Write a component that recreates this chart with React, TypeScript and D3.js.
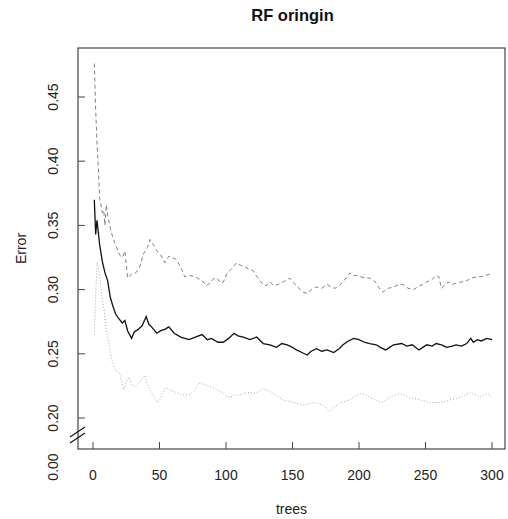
import React from "react"
import * as d3 from "d3"

// OOB error (solid black)
const oobTrees = [1, 2, 3, 5, 7, 9, 11, 13, 15, 17, 19, 22, 24, 26, 29, 31, 34, 37, 40, 42, 44, 48, 51, 54, 57, 61, 66, 72, 77, 82, 86, 89, 94, 98, 102, 106, 109, 113, 118, 123, 128, 133, 138, 142, 146, 150, 153, 157, 161, 164, 168, 172, 176, 181, 185, 188, 192, 196, 200, 204, 208, 213, 216, 220, 223, 226, 232, 236, 240, 245, 248, 251, 255, 258, 262, 266, 270, 273, 277, 281, 284, 286, 289, 292, 296, 300]
const oobErr = [0.370, 0.343, 0.354, 0.335, 0.322, 0.313, 0.307, 0.294, 0.287, 0.281, 0.278, 0.274, 0.276, 0.268, 0.262, 0.267, 0.269, 0.272, 0.279, 0.273, 0.271, 0.266, 0.268, 0.269, 0.271, 0.266, 0.263, 0.261, 0.263, 0.265, 0.261, 0.262, 0.259, 0.259, 0.262, 0.266, 0.264, 0.263, 0.261, 0.263, 0.258, 0.257, 0.255, 0.258, 0.257, 0.255, 0.253, 0.251, 0.249, 0.252, 0.254, 0.252, 0.253, 0.251, 0.254, 0.257, 0.260, 0.262, 0.261, 0.259, 0.258, 0.257, 0.255, 0.253, 0.255, 0.257, 0.258, 0.256, 0.257, 0.253, 0.255, 0.257, 0.256, 0.258, 0.257, 0.255, 0.256, 0.257, 0.256, 0.258, 0.262, 0.259, 0.261, 0.260, 0.262, 0.261]

// class 1 error (dashed)
const c1Trees = [1, 2, 3, 4, 5, 6, 7, 8, 9, 10, 11, 13, 15, 17, 20, 22, 24, 26, 29, 32, 35, 38, 41, 43, 46, 48, 51, 54, 57, 59, 62, 64, 67, 69, 73, 77, 80, 82, 85, 88, 91, 93, 96, 98, 101, 104, 108, 111, 114, 117, 120, 124, 127, 130, 133, 136, 139, 143, 148, 151, 156, 158, 161, 164, 168, 172, 176, 179, 182, 185, 188, 191, 193, 196, 198, 201, 205, 208, 211, 213, 216, 218, 222, 226, 230, 233, 237, 241, 244, 248, 251, 255, 258, 260, 262, 265, 267, 270, 273, 277, 281, 285, 289, 292, 295, 298, 300]
const c1Err = [0.476, 0.440, 0.415, 0.395, 0.371, 0.366, 0.360, 0.362, 0.350, 0.366, 0.358, 0.348, 0.340, 0.335, 0.327, 0.325, 0.330, 0.309, 0.312, 0.313, 0.317, 0.328, 0.333, 0.339, 0.334, 0.330, 0.327, 0.321, 0.326, 0.325, 0.324, 0.321, 0.315, 0.310, 0.311, 0.310, 0.308, 0.307, 0.303, 0.305, 0.309, 0.309, 0.305, 0.306, 0.313, 0.316, 0.321, 0.319, 0.318, 0.316, 0.315, 0.309, 0.305, 0.303, 0.306, 0.303, 0.304, 0.306, 0.309, 0.305, 0.300, 0.298, 0.297, 0.300, 0.302, 0.301, 0.304, 0.302, 0.301, 0.303, 0.306, 0.310, 0.313, 0.311, 0.311, 0.310, 0.309, 0.309, 0.307, 0.305, 0.300, 0.298, 0.301, 0.302, 0.304, 0.304, 0.301, 0.300, 0.302, 0.304, 0.306, 0.308, 0.311, 0.310, 0.301, 0.304, 0.306, 0.304, 0.305, 0.306, 0.307, 0.309, 0.310, 0.310, 0.311, 0.312, 0.313]

// class 2 error (dotted)
const c2Trees = [1, 2, 3, 4, 5, 6, 8, 10, 12, 13, 15, 17, 20, 23, 25, 27, 29, 32, 35, 39, 41, 44, 47, 49, 52, 55, 59, 63, 67, 72, 76, 80, 84, 89, 93, 97, 100, 103, 107, 111, 116, 121, 125, 128, 132, 136, 140, 143, 147, 151, 155, 158, 162, 166, 170, 173, 178, 182, 186, 190, 193, 197, 201, 205, 208, 212, 216, 220, 223, 227, 231, 235, 238, 242, 246, 250, 253, 257, 261, 265, 268, 272, 276, 280, 284, 288, 291, 294, 297, 300]
const c2Err = [0.265, 0.295, 0.321, 0.318, 0.310, 0.300, 0.287, 0.269, 0.258, 0.251, 0.242, 0.237, 0.235, 0.222, 0.228, 0.232, 0.226, 0.224, 0.228, 0.233, 0.226, 0.220, 0.214, 0.212, 0.218, 0.224, 0.221, 0.220, 0.218, 0.218, 0.221, 0.227, 0.226, 0.224, 0.222, 0.220, 0.217, 0.216, 0.218, 0.218, 0.220, 0.219, 0.221, 0.223, 0.221, 0.219, 0.216, 0.214, 0.213, 0.212, 0.211, 0.210, 0.211, 0.212, 0.211, 0.210, 0.205, 0.209, 0.212, 0.213, 0.214, 0.217, 0.219, 0.218, 0.216, 0.214, 0.212, 0.214, 0.216, 0.218, 0.219, 0.217, 0.216, 0.215, 0.214, 0.213, 0.212, 0.212, 0.212, 0.213, 0.214, 0.215, 0.216, 0.218, 0.220, 0.218, 0.216, 0.218, 0.219, 0.216]

const xTicks = [0, 50, 100, 150, 200, 250, 300]
const yTicks = [0.20, 0.25, 0.30, 0.35, 0.40, 0.45]
const yBreakLabel = 0.0

export default function App() {
  const W = 508, H = 519
  const box = {left: 78, right: 505, top: 48, bottom: 449}
  const font = "'Liberation Sans', Arial, sans-serif"
  const fs = 14

  const x = d3.scaleLinear().domain([0, 300]).range([93, 492])
  // broken axis: 0.00 sits below the gap
  const y = d3.scaleLinear().domain([0, 0.2, 0.45]).range([467, 418, 97])

  const line = d3.line<[number, number]>().x(d => x(d[0])).y(d => y(d[1]))
  const pts = (t: number[], v: number[]) => t.map((tt, i) => [tt, v[i]] as [number, number])

  const brkY = y(0.2) + 16

  return (
    <svg width={W} height={H} style={{position: "absolute", left: 0, top: 0, background: "#fff"}}
         fontFamily={font}>
      <text x={(box.left + box.right) / 2 + 1} y={21} textAnchor="middle" fontWeight="bold" fontSize={16.5} fill="#111">RF oringin</text>

      <path d={line(pts(c1Trees, c1Err)) || ""} fill="none" stroke="#808080" strokeWidth={1} strokeDasharray="4,3" />
      <path d={line(pts(c2Trees, c2Err)) || ""} fill="none" stroke="#aaa" strokeWidth={1} strokeDasharray="1,2" />
      <path d={line(pts(oobTrees, oobErr)) || ""} fill="none" stroke="#111" strokeWidth={1.3} />

      <rect x={box.left} y={box.top} width={box.right - box.left} height={box.bottom - box.top}
            fill="none" stroke="#444" strokeWidth={1.2} />

      {xTicks.map(t => (
        <g key={t}>
          <line x1={x(t)} x2={x(t)} y1={box.bottom} y2={box.bottom - 7} stroke="#444" />
          <text x={x(t)} y={480} textAnchor="middle" fontSize={fs} fill="#222">{t}</text>
        </g>
      ))}
      {yTicks.map(t => (
        <g key={t}>
          <line x1={box.left} x2={box.left + 7} y1={y(t)} y2={y(t)} stroke="#444" />
          <text transform={`translate(58,${y(t)}) rotate(-90)`} textAnchor="middle" fontSize={fs} fill="#222">{t.toFixed(2)}</text>
        </g>
      ))}
      <text transform={`translate(58,${y(yBreakLabel)}) rotate(-90)`} textAnchor="middle" fontSize={fs} fill="#222">{yBreakLabel.toFixed(2)}</text>

      {/* axis break marks */}
      <line x1={box.left - 8} y1={brkY + 3} x2={box.left + 7} y2={brkY - 7} stroke="#111" strokeWidth={1.2} />
      <line x1={box.left - 8} y1={brkY + 9} x2={box.left + 7} y2={brkY - 1} stroke="#111" strokeWidth={1.2} />

      <text x={(box.left + box.right) / 2} y={514} textAnchor="middle" fontSize={fs} fill="#222">trees</text>
      <text transform={`translate(26,${(box.top + box.bottom) / 2}) rotate(-90)`} textAnchor="middle" fontSize={fs} fill="#222">Error</text>
    </svg>
  )
}
